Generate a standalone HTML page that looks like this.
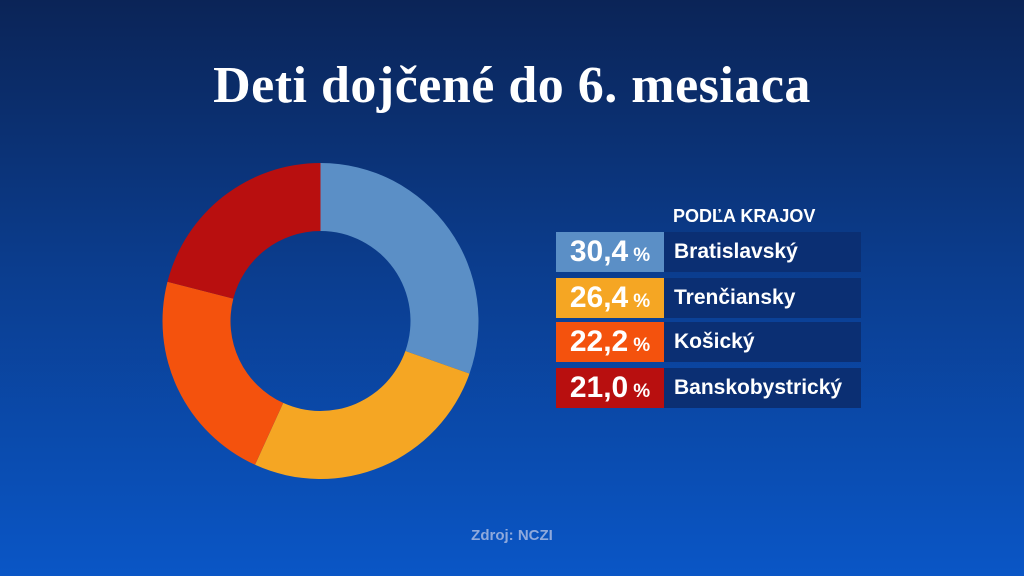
<!DOCTYPE html>
<html><head><meta charset="utf-8"><style>
html,body{margin:0;padding:0}
body{width:1024px;height:576px;overflow:hidden;background:linear-gradient(180deg,#0b2457 0%,#0b3c8c 45%,#0a56c6 100%);font-family:"Liberation Sans",sans-serif;position:relative}
#title{position:absolute;left:0;width:1024px;top:56px;text-align:center;color:#fff;font-family:"Liberation Serif",serif;font-weight:bold;font-size:52px;letter-spacing:0.5px}
#sub{position:absolute;left:673px;top:206px;color:#fff;font-weight:bold;font-size:18px}
.row{position:absolute;left:556px;width:305px;height:40px}
.val{position:absolute;left:0;top:0;width:108px;height:40px;color:#fff;font-weight:bold;font-size:30px;line-height:40px;text-align:center}
.val small{font-size:19px;margin-left:5px}
.lab{position:absolute;left:108px;top:0;width:197px;height:40px;background:#0b2f73;color:#fff;font-weight:bold;font-size:21px;line-height:40px;padding-left:10px;box-sizing:border-box}
#src{position:absolute;left:0;width:1024px;top:527px;text-align:center;color:#8fa9dc;font-size:15px;font-weight:bold}
</style></head><body>
<div id="title">Deti dojčené do 6. mesiaca</div>
<svg id="donut" width="1024" height="576" style="position:absolute;left:0;top:0"></svg>
<div id="sub">PODĽA KRAJOV</div>
<div id="legend"></div>
<div id="src">Zdroj: NCZI</div>
<script>
const categories=["Bratislavský","Trenčiansky","Košický","Banskobystrický"];
const values=[30.4,26.4,22.2,21.0];
const labels=["30,4","26,4","22,2","21,0"];
const colors=["#5b8fc6","#f5a623","#f4520d","#b80f0f"];
const cx=320.5,cy=321,R=158,r=90;
const svg=document.getElementById('donut');
const total=values.reduce((a,b)=>a+b,0);
let a0=0;
function pt(a,rad){return [cx+rad*Math.sin(a),cy-rad*Math.cos(a)];}
values.forEach((v,i)=>{
  const a1=a0+v/total*2*Math.PI;
  const large=(a1-a0)>Math.PI?1:0;
  const p1=pt(a0,R),p2=pt(a1,R),p3=pt(a1,r),p4=pt(a0,r);
  const p=document.createElementNS('http://www.w3.org/2000/svg','path');
  p.setAttribute('d',`M${p1}A${R},${R} 0 ${large} 1 ${p2}L${p3}A${r},${r} 0 ${large} 0 ${p4}Z`);
  p.setAttribute('fill',colors[i]);
  
  
  svg.appendChild(p);
  a0=a1;
});
const tops=[232,278,322,368];
const leg=document.getElementById('legend');
categories.forEach((c,i)=>{
  const row=document.createElement('div');
  row.className='row';row.style.top=tops[i]+'px';
  
  
  row.innerHTML=`<div class="val" style="background:${colors[i]}">${labels[i]}<small>%</small></div><div class="lab">${c}</div>`;
  leg.appendChild(row);
});
</script>
</body></html>
